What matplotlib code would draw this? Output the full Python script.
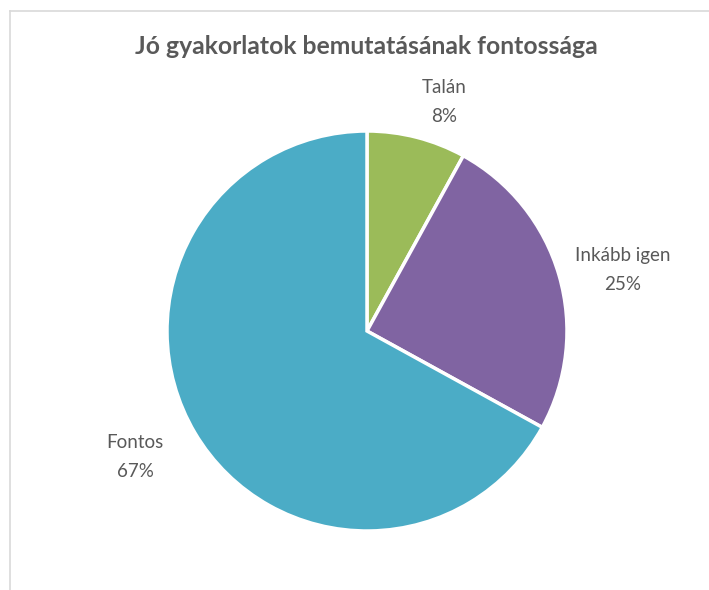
import matplotlib.pyplot as plt
from matplotlib.lines import Line2D

labels = ['Talán', 'Inkább igen', 'Fontos']
values = [8, 25, 67]
colors = ['#9BBB59', '#8064A2', '#4BACC6']
# label spots outside the pie (data units, radius = 1)
label_pos = [(0.385, 1.145), (1.28, 0.305), (-1.16, -0.63)]

plt.rcParams['font.family'] = ['Lato', 'DejaVu Sans']
text_color = '#595959'

fig = plt.figure(figsize=(7.09, 5.90), dpi=100)

# chart frame (only left and top edges visible in the crop)
fig.add_artist(Line2D([9.5 / 709, 9.5 / 709], [0, 1 - 11 / 590],
                      transform=fig.transFigure, color='#d9d9d9', lw=1.2))
fig.add_artist(Line2D([9.5 / 709, 1], [1 - 11 / 590, 1 - 11 / 590],
                      transform=fig.transFigure, color='#d9d9d9', lw=1.2))

fig.text(366 / 709, 1 - 47 / 590, 'Jó gyakorlatok bemutatásának fontossága',
         ha='center', va='center', fontsize=17.8, fontweight='bold', color=text_color)

ax = fig.add_axes([167 / 709, 59 / 590, 400 / 709, 400 / 590])
ax.pie(values, colors=colors, startangle=90, counterclock=False,
       wedgeprops=dict(edgecolor='white', linewidth=2.5))
ax.set_xlim(-1, 1)
ax.set_ylim(-1, 1)
ax.set_aspect('equal')
ax.axis('off')

for lab, v, (x, y) in zip(labels, values, label_pos):
    ax.text(x, y, f'{lab}\n{v}%', ha='center', va='center', fontsize=13.5,
            color=text_color, linespacing=1.88, clip_on=False)

plt.savefig('out.png', dpi=100)
